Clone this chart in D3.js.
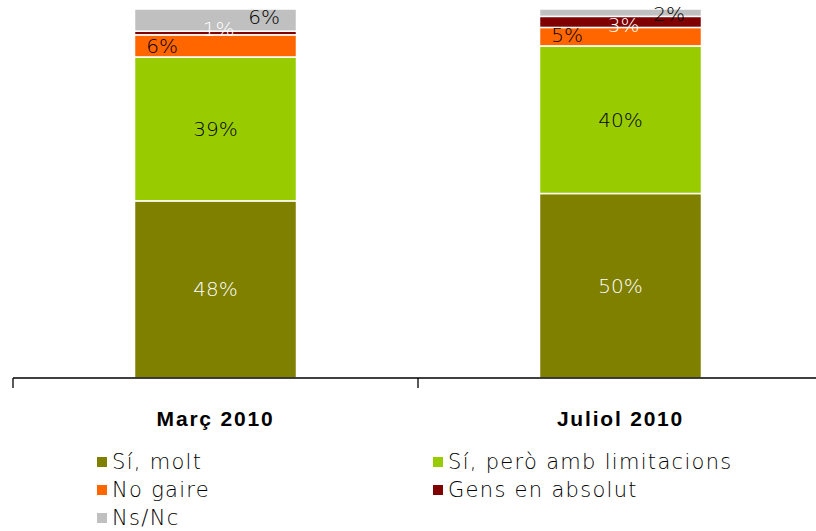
<!DOCTYPE html>
<html>
<head>
<meta charset="utf-8">
<script src="https://cdn.jsdelivr.net/npm/d3@7"></script>
<style>
  body { margin: 0; background: #fff; }
  text { font-family: "DejaVu Sans", sans-serif; }
</style>
</head>
<body>
<div id="chart"></div>
<script>
// categories and series
const periods = ["Març 2010", "Juliol 2010"];
const seriesNames = ["Sí, molt", "Sí, però amb limitacions", "No gaire", "Gens en absolut", "Ns/Nc"];
const colors = ["#808000", "#99CC00", "#FF6600", "#800000", "#C0C0C0"];
const siMolt = [48, 50];
const siPero = [39, 40];
const noGaire = [6, 5];
const gens = [1, 3];
const nsnc = [6, 2];

const series = [siMolt, siPero, noGaire, gens, nsnc];
const labelColors = ["#fff", "#000", "#000", "#fff", "#000"];

const width = 816, height = 531;
const margin = {top: 9, left: 13, right: -7, bottom: 153};

const svg = d3.select("#chart").append("svg")
    .attr("width", width)
    .attr("height", height);

const x = d3.scaleBand()
    .domain(periods)
    .range([margin.left, width - margin.right])
    .paddingInner(0)
    .paddingOuter(0);

const y = d3.scaleLinear()
    .domain([0, 100])
    .range([height - margin.bottom, margin.top]);

const barW = x.bandwidth() * 0.4;

// stack the values
const rows = periods.map((p, i) => {
  const r = {period: p};
  seriesNames.forEach((s, j) => r[s] = series[j][i]);
  return r;
});
const stacked = d3.stack().keys(seriesNames)(rows);

const g = svg.append("g");
g.selectAll("g.layer")
  .data(stacked)
  .join("g")
    .attr("class", "layer")
    .attr("fill", (d, i) => colors[i])
  .selectAll("rect")
  .data(d => d)
  .join("rect")
    .attr("x", d => x(d.data.period) + (x.bandwidth() - barW) / 2)
    .attr("y", d => y(d[1]))
    .attr("width", barW)
    .attr("height", d => y(d[0]) - y(d[1]))
    .attr("stroke", "#fff")
    .attr("stroke-width", 1.5);

// labels: small top segments get spread sideways so they don't collide
const smallShift = [0, 0, -0.33, 0.02, 0.3];
const smallDy = [[0, 0, 0, -4, -3], [0, 0, -2, 3, 1]];
stacked.forEach((layer, j) => {
  layer.forEach((d, i) => {
    const cx = x(d.data.period) + x.bandwidth() / 2 + smallShift[j] * barW;
    const cy = (y(d[0]) + y(d[1])) / 2 + smallDy[i][j];
    svg.append("text")
      .attr("x", cx)
      .attr("y", cy)
      .attr("dy", "0.35em")
      .attr("text-anchor", "middle")
      .attr("fill", labelColors[j])
      .style("font-size", "20px")
      .style("font-weight", "300")
      .text(d.data[seriesNames[j]] + "%");
  });
});

// axis
const axisY = y(0);
svg.append("line")
  .attr("x1", margin.left).attr("x2", width)
  .attr("y1", axisY).attr("y2", axisY)
  .attr("stroke", "#000").attr("stroke-width", 1.3);
svg.selectAll("line.tick")
  .data(periods)
  .join("line")
    .attr("class", "tick")
    .attr("x1", d => x(d)).attr("x2", d => x(d))
    .attr("y1", axisY).attr("y2", axisY + 10)
    .attr("stroke", "#000").attr("stroke-width", 1.3);

svg.selectAll("text.cat")
  .data(periods)
  .join("text")
    .attr("class", "cat")
    .attr("x", d => x(d) + x.bandwidth() / 2)
    .attr("y", axisY + 48)
    .attr("text-anchor", "middle")
    .style("font-family", "'Liberation Sans', Arial, sans-serif")
    .style("font-weight", "bold")
    .style("font-size", "21px")
    .style("letter-spacing", "1.8px")
    .text(d => d);

// legend
const legend = svg.append("g");
seriesNames.forEach((s, i) => {
  const col = i % 2, row = Math.floor(i / 2);
  const lx = 97 + col * 336, ly = 462 + row * 28;
  legend.append("rect")
    .attr("x", lx).attr("y", ly - 5)
    .attr("width", 10).attr("height", 10)
    .attr("fill", colors[i]);
  legend.append("text")
    .attr("x", lx + 15).attr("y", ly)
    .attr("dy", "0.35em")
    .style("font-size", "21px")
    .style("font-weight", "300")
    .style("letter-spacing", "1.3px")
    .text(s);
});
</script>
</body>
</html>
